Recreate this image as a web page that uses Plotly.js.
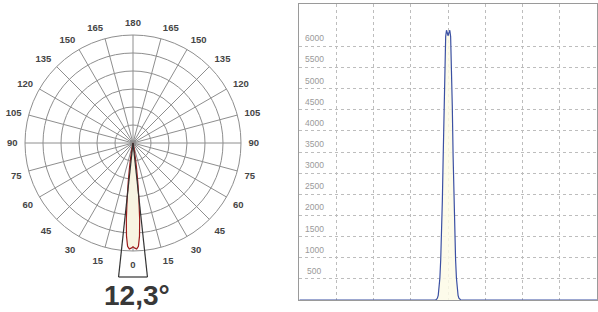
<!DOCTYPE html>
<html>
<head>
<meta charset="utf-8">
<script src="https://cdn.plot.ly/plotly-3.0.1.min.js"></script>
<style>html,body{margin:0;padding:0;background:#fff;}#chart{width:598px;height:312px;}</style>
</head>
<body>
<div id="chart"></div>
<script>
// ---- data ----
var angles = [-180, -16, -15, -14, -13, -12, -11, -10, -9, -8, -7, -6, -5, -4, -3, -2, -1, 0,
              1, 2, 3, 4, 5, 6, 7, 8, 9, 10, 11, 12, 13, 14, 15, 16, 180];
var intensity = [0, 0, 6, 18, 45, 110, 250, 520, 950, 1550, 2350, 3400, 4600, 5620, 6230, 6380, 6330, 6250,
                 6330, 6380, 6230, 5620, 4600, 3400, 2350, 1550, 950, 520, 250, 110, 45, 18, 6, 0, 0];
var beamAngle = 12.3;
var polarTickVals = [0, 15, 30, 45, 60, 75, 90, 105, 120, 135, 150, 165, 180, 195, 210, 225, 240, 255, 270, 285, 300, 315, 330, 345];
var polarTickText = ['0', '15', '30', '45', '60', '75', '90', '105', '120', '135', '150', '165', '180', '165', '150', '135', '120', '105', '90', '75', '60', '45', '30', '15'];
var polarMax = 6500;
var ringValues = [1083, 2167, 3250, 4333, 5417];
var yTickVals = [500, 1000, 1500, 2000, 2500, 3000, 3500, 4000, 4500, 5000, 5500, 6000];
var yTickText = ['500', '1000', '1500', '2000', '2500', '3000', '3500', '4000', '4500', '5000', '5500', '6000'];
var xTickVals = [-135, -90, -45, 0, 45, 90, 135];

// ---- geometry ----
var W = 598, H = 312;
var cx = 133, cy = 143, R = 108;
var beamBottom = 277;
var half = beamAngle / 2 * Math.PI / 180;
var dxB = (beamBottom - cy) * Math.tan(half);
function px(x) { return x / W; }
function py(y) { return 1 - y / H; }

var gridC = '#8e8e8e';

var traces = [
  {
    type: 'scatterpolar', r: intensity, theta: angles, mode: 'lines',
    fill: 'toself', fillcolor: '#f8f4e2',
    line: { color: '#9e1b1b', width: 1.2 }, subplot: 'polar', hoverinfo: 'skip'
  },
  {
    type: 'scatter', x: angles, y: intensity, mode: 'lines',
    fill: 'tozeroy', fillcolor: 'rgba(253,250,230,0.85)',
    line: { color: '#3b50a3', width: 1.2 }, xaxis: 'x', yaxis: 'y', hoverinfo: 'skip'
  }
];

var annotations = [];
for (var i = 0; i < yTickVals.length; i++) {
  annotations.push({
    xref: 'x', yref: 'y', x: -180, y: yTickVals[i], text: yTickText[i],
    showarrow: false, xanchor: 'center', yanchor: 'middle', xshift: 15, yshift: 8,
    font: { family: 'Liberation Sans, Arial, sans-serif', size: 8.5, color: '#9a9a9a' }
  });
}
annotations.push({
  xref: 'paper', yref: 'paper', x: px(137), y: py(295),
  text: beamAngle.toString().replace('.', ',') + '°', showarrow: false,
  xanchor: 'center', yanchor: 'middle',
  font: { family: 'Liberation Sans, Arial, sans-serif', size: 28, color: '#383838', weight: 'bold' }
});

var shapes = [
  { type: 'line', xref: 'paper', yref: 'paper', x0: px(cx), y0: py(cy), x1: px(cx - dxB), y1: py(beamBottom), line: { color: '#333', width: 1.2 } },
  { type: 'line', xref: 'paper', yref: 'paper', x0: px(cx), y0: py(cy), x1: px(cx + dxB), y1: py(beamBottom), line: { color: '#333', width: 1.2 } },
  { type: 'line', xref: 'paper', yref: 'paper', x0: px(cx - dxB), y0: py(beamBottom), x1: px(cx + dxB), y1: py(beamBottom), line: { color: '#333', width: 1.2 } }
];

var layout = {
  width: W, height: H,
  margin: { l: 0, r: 0, t: 0, b: 0, pad: 0 },
  paper_bgcolor: '#fff', plot_bgcolor: 'rgba(0,0,0,0)',
  showlegend: false,
  polar: {
    domain: { x: [px(cx - R), px(cx + R)], y: [py(cy + R), py(cy - R)] },
    bgcolor: 'rgba(0,0,0,0)',
    radialaxis: {
      range: [0, polarMax], tickvals: ringValues, showticklabels: false, ticks: '',
      showline: false, gridcolor: gridC, gridwidth: 1
    },
    angularaxis: {
      rotation: -90, direction: 'counterclockwise',
      tickvals: polarTickVals, ticktext: polarTickText,
      ticks: 'outside', ticklen: 5, tickcolor: 'rgba(0,0,0,0)',
      showline: true, linecolor: gridC, linewidth: 1, gridcolor: gridC, gridwidth: 1,
      tickfont: { family: 'Liberation Sans, Arial, sans-serif', size: 9.5, color: '#454545', weight: 'bold' }
    }
  },
  xaxis: {
    domain: [px(299.3), px(597)], range: [-180, 180], tickvals: xTickVals,
    showticklabels: false, ticks: '', gridcolor: '#bdbdbd', griddash: 'dot', gridwidth: 1,
    showline: true, mirror: true, linecolor: '#9a9a9a', linewidth: 1, zeroline: false
  },
  yaxis: {
    domain: [py(300), py(4)], range: [0, 7000], tickvals: yTickVals,
    showticklabels: false, ticks: '', gridcolor: '#bdbdbd', griddash: 'dot', gridwidth: 1,
    showline: true, mirror: true, linecolor: '#9a9a9a', linewidth: 1, zeroline: false
  },
  annotations: annotations,
  shapes: shapes
};

Plotly.newPlot('chart', traces, layout, { displayModeBar: false, staticPlot: true });
</script>
</body>
</html>
